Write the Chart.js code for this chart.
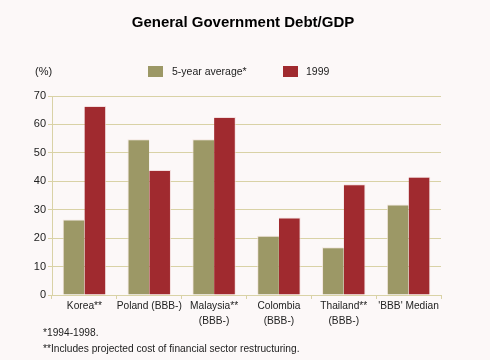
<!DOCTYPE html>
<html>
<head>
<meta charset="utf-8">
<script src="https://cdn.jsdelivr.net/npm/chart.js@4"></script>
<style>
  html, body { margin: 0; padding: 0; background: #fcf8f8; }
  #wrap { width: 490px; height: 360px; position: relative; }
</style>
</head>
<body>
<div id="wrap"><canvas id="debtChart" width="490" height="360"></canvas></div>
<script>
// Data
const categories = [
  'Korea**',
  'Poland (BBB-)',
  ['Malaysia**', '(BBB-)'],
  ['Colombia', '(BBB-)'],
  ['Thailand**', '(BBB-)'],
  "'BBB' Median"
];
const fiveYearAvg = [26.6, 54.8, 54.8, 20.8, 16.8, 31.8];
const year1999 = [66.5, 44.0, 62.6, 27.3, 39.0, 41.6];
const yTicks = [0, 10, 20, 30, 40, 50, 60, 70];
const footnotes = ['*1994-1998.', '**Includes projected cost of financial sector restructuring.'];

const FONT = '"Liberation Sans", Arial, sans-serif';
const gridColor = '#d9d2a6';

// Title, unit, legend and footnotes
const extrasPlugin = {
  id: 'extras',
  afterDraw(chart) {
    const c = chart.ctx;
    c.save();
    c.fillStyle = '#000';
    c.font = 'bold 15px ' + FONT;
    c.textAlign = 'center';
    c.textBaseline = 'middle';
    c.fillText('General Government Debt/GDP', 243, 23);

    c.font = '11px ' + FONT;
    c.fillStyle = '#222';
    c.textAlign = 'left';
    c.fillText('(%)', 35, 72);

    // legend
    c.font = '10.5px ' + FONT;
    const items = [[148, 172], [283, 306]];
    chart.data.datasets.forEach((ds, i) => {
      c.fillStyle = ds.backgroundColor;
      c.fillRect(items[i][0], 66, 15, 11);
      c.fillStyle = '#222';
      c.fillText(ds.label, items[i][1], 72);
    });

    c.font = '10.2px ' + FONT;
    c.fillText(footnotes[0], 43, 333);
    c.fillText(footnotes[1], 43, 349);
    c.restore();
  }
};

const ctx = document.getElementById('debtChart').getContext('2d');
const chart = new Chart(ctx, {
  type: 'bar',
  data: {
    labels: categories,
    datasets: [{
      label: '5-year average*',
      data: fiveYearAvg,
      backgroundColor: '#9c9866',
      borderColor: 'rgba(240,225,215,0.8)',
      borderWidth: { top: 1, left: 1, right: 0, bottom: 0 }
    }, {
      label: '1999',
      data: year1999,
      backgroundColor: '#a02a2f',
      borderColor: 'rgba(240,215,215,0.8)',
      borderWidth: { top: 1, left: 0, right: 1, bottom: 0 }
    }]
  },
  options: {
    responsive: false,
    animation: false,
    layout: { padding: { top: 96, right: 49, left: 0, bottom: 0 } },
    datasets: {
      bar: { categoryPercentage: 0.67, barPercentage: 1.0 }
    },
    scales: {
      x: {
        grid: { offset: true, drawOnChartArea: false, drawTicks: true, tickLength: 4, color: gridColor },
        border: { color: gridColor },
        ticks: { color: '#222', font: { family: FONT, size: 10.2, lineHeight: 1.45 }, padding: 0, maxRotation: 0, autoSkip: false },
        afterFit: s => { s.height = 65; }
      },
      y: {
        min: 0,
        max: 70,
        afterBuildTicks: s => { s.ticks = yTicks.map(v => ({ value: v })); },
        grid: { color: gridColor, tickLength: 4, lineWidth: 1 },
        border: { color: gridColor },
        ticks: { color: '#222', font: { family: FONT, size: 11 }, padding: 2 },
        afterFit: s => { s.width = 52; }
      }
    },
    plugins: {
      legend: { display: false },
      title: { display: false },
      tooltip: { enabled: false }
    }
  },
  plugins: [extrasPlugin]
});
</script>
</body>
</html>
